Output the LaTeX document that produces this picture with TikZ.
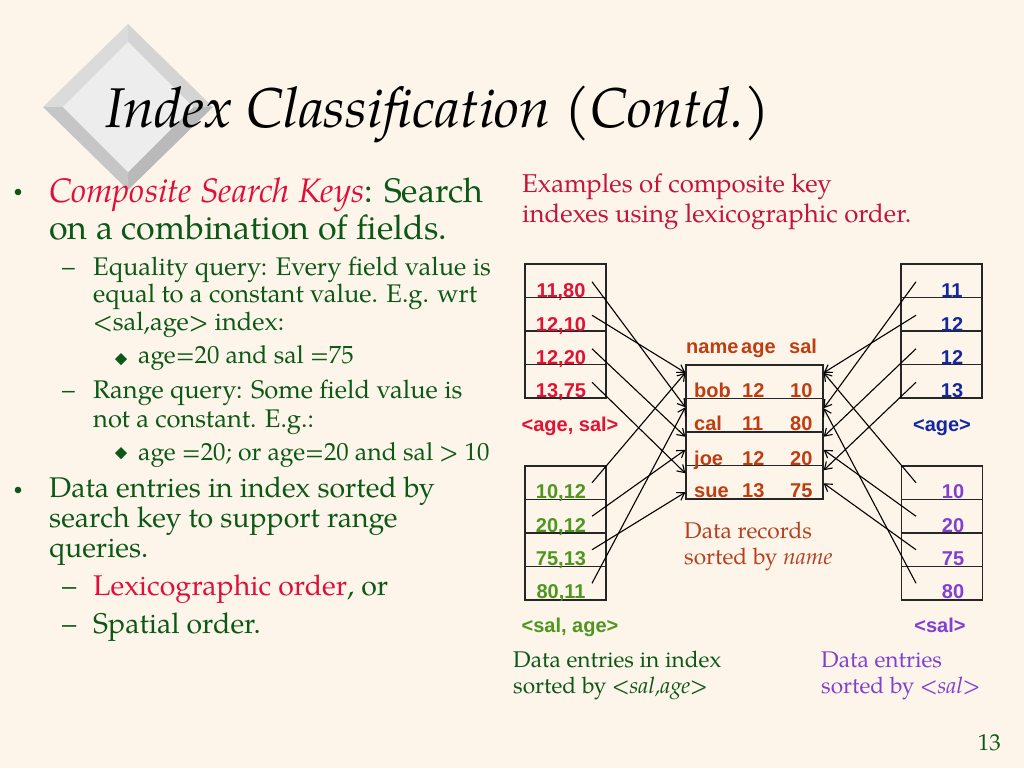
\documentclass[tikz,border=0pt]{standalone}
\usepackage{fontspec}
\setmainfont{texgyrepagella}[Extension=.otf,UprightFont=*-regular,ItalicFont=*-italic,BoldFont=*-bold,BoldItalicFont=*-bolditalic]
\setsansfont{Liberation Sans}
\usetikzlibrary{arrows.meta}
\definecolor{bg}{RGB}{253,245,234}
\definecolor{dgreen}{RGB}{12,88,22}
\definecolor{crim}{RGB}{222,16,58}
\definecolor{exred}{RGB}{196,20,58}
\definecolor{recbrown}{RGB}{190,62,18}
\definecolor{capbrown}{RGB}{180,64,30}
\definecolor{lgreen}{RGB}{78,150,30}
\definecolor{iblue}{RGB}{18,40,160}
\definecolor{ipurp}{RGB}{128,64,210}
\definecolor{rred}{RGB}{225,18,50}
\begin{document}
\begin{tikzpicture}[x=1pt,y=-1pt,
  cell/.style={draw=black!85,line width=1.3pt,minimum width=81pt,minimum height=33.5pt,inner sep=0pt},
  rec/.style={draw=black!85,line width=1.3pt,minimum width=137pt,minimum height=33.5pt,inner sep=0pt},
  lab/.style={font=\fontsize{20}{22}\selectfont\sffamily\bfseries,anchor=base,inner sep=0pt},
  labw/.style={font=\fontsize{20}{22}\selectfont\sffamily\bfseries,anchor=base west,inner sep=0pt},
  txt/.style={anchor=base west,inner sep=0pt},
  lone/.style={txt,font=\fontsize{34}{38}\selectfont,text=dgreen},
  lonesm/.style={txt,font=\fontsize{28.5}{32}\selectfont,text=dgreen},
  ltwo/.style={txt,font=\fontsize{25.5}{29}\selectfont,text=dgreen},
  lthree/.style={txt,font=\fontsize{24.8}{28}\selectfont,text=dgreen},
  captxt/.style={txt,font=\fontsize{22.7}{26}\selectfont},
  capbig/.style={txt,font=\fontsize{25.8}{29}\selectfont},
  conn/.style={line width=1.1pt,black,-{Straight Barb[length=7pt,width=9pt]}}]
\fill[bg] (0,0) rectangle (1024,768);
\useasboundingbox (0,0) rectangle (1024,768);
% logo diamond
\fill[gray!28] (43,107) -- (128,24) -- (128,42) -- (63,107) -- cycle;
\fill[gray!34] (128,24) -- (213,107) -- (193,107) -- (128,42) -- cycle;
\fill[gray!45] (43,107) -- (128,190) -- (128,172) -- (63,107) -- cycle;
\fill[gray!55] (213,107) -- (128,190) -- (128,172) -- (193,107) -- cycle;
\fill[gray!14] (63,107) -- (128,42) -- (193,107) -- (128,172) -- cycle;
% title
\node[txt,font=\fontsize{56}{60}\selectfont\itshape] (title) at (105,127) {Index Classification (Contd.)};
% left text
\fill[dgreen] (18,192) circle (3.3);
\node[lone] (t1) at (49,202) {{\color{crim}\itshape Composite Search Keys}: Search};
\node[lone] (t2) at (49,239) {on a combination of fields.};
\node[ltwo] (d1) at (62,275) {–};
\node[ltwo] (t3) at (93,275) {Equality query: Every field value is};
\node[ltwo] (t4) at (93,302) {equal to a constant value. E.g. wrt};
\node[ltwo] (t5) at (93,330) {<sal,age> index:};
\fill[dgreen] (121,353) -- (127,359) -- (121,365) -- (115,359) -- cycle;
\node[lthree] (t6) at (138,363) {age=20 and sal =75};
\node[ltwo] (d2) at (62,398) {–};
\node[ltwo] (t7) at (93,398) {Range query: Some field value is};
\node[ltwo] (t8) at (93,427) {not a constant. E.g.:};
\fill[dgreen] (121,447) -- (127,453) -- (121,459) -- (115,453) -- cycle;
\node[lthree] (t9) at (138,460) {age =20; or age=20 and sal > 10};
\fill[dgreen] (18,490) circle (3.3);
\node[lonesm] (t10) at (49,497) {Data entries in index sorted by};
\node[lonesm] (t11) at (49,527) {search key to support range};
\node[lonesm] (t12) at (49,557) {queries.};
\node[lonesm] (d3) at (62,595) {–};
\node[lonesm] (t13) at (93,595) {{\color{crim}Lexicographic order}, or};
\node[lonesm] (d4) at (62,633) {–};
\node[lonesm] (t14) at (93,633) {Spatial order.};
% captions
\node[capbig,text=exred] (c1) at (522,192) {Examples of composite key};
\node[capbig,text=exred] (c2) at (522,222) {indexes using lexicographic order.};
\node[captxt,text=capbrown] (c3) at (684,538) {Data records};
\node[captxt,text=capbrown] (c4) at (684,564) {sorted by \textit{name}};
\node[captxt,text=dgreen] (c5) at (513,667) {Data entries in index};
\node[captxt,text=dgreen] (c6) at (513,693) {sorted by <\textit{sal,age}>};
\node[captxt,text=ipurp] (c7) at (821,667) {Data entries};
\node[captxt,text=ipurp] (c8) at (821,693) {sorted by <\textit{sal}>};
\node[txt,anchor=base east,font=\fontsize{23}{26}\selectfont,text=dgreen] (pg) at (1001,750) {13};
% left top index <age,sal>
\node[cell] (la1) at (565.5,280.75) {};
\node[cell] (la2) at (565.5,314.25) {};
\node[cell] (la3) at (565.5,347.75) {};
\node[cell] (la4) at (565.5,381.25) {};
\node[lab,text=rred] (la1t) at (561,297) {11,80};
\node[lab,text=rred] (la2t) at (561,331) {12,10};
\node[lab,text=rred] (la3t) at (561,364) {12,20};
\node[lab,text=rred] (la4t) at (561,397) {13,75};
\node[lab,text=rred] (lak) at (570,431) {<age, sal>};
% left bottom index <sal,age>
\node[cell] (lb1) at (565.5,482.75) {};
\node[cell] (lb2) at (565.5,516.25) {};
\node[cell] (lb3) at (565.5,549.75) {};
\node[cell] (lb4) at (565.5,583.25) {};
\node[lab,text=lgreen] (lb1t) at (561,498) {10,12};
\node[lab,text=lgreen] (lb2t) at (561,532) {20,12};
\node[lab,text=lgreen] (lb3t) at (561,565) {75,13};
\node[lab,text=lgreen] (lb4t) at (561,598) {80,11};
\node[lab,text=lgreen] (lbk) at (570,632) {<sal, age>};
% records
\node[labw,text=recbrown] (hn) at (686,353) {name};
\node[labw,text=recbrown] (ha) at (741,353) {age};
\node[labw,text=recbrown] (hs) at (789,353) {sal};
\node[rec] (rbob) at (754.5,381.75) {};
\node[rec] (rcal) at (754.5,415.25) {};
\node[rec] (rjoe) at (754.5,448.75) {};
\node[rec] (rsue) at (754.5,482.25) {};
\node[labw,text=recbrown] (r1a) at (694,397) {bob};
\node[labw,text=recbrown] (r1b) at (742,397) {12};
\node[labw,text=recbrown] (r1c) at (790,397) {10};
\node[labw,text=recbrown] (r2a) at (694,430) {cal};
\node[labw,text=recbrown] (r2b) at (742,430) {11};
\node[labw,text=recbrown] (r2c) at (790,430) {80};
\node[labw,text=recbrown] (r3a) at (694,465) {joe};
\node[labw,text=recbrown] (r3b) at (742,465) {12};
\node[labw,text=recbrown] (r3c) at (790,465) {20};
\node[labw,text=recbrown] (r4a) at (694,497) {sue};
\node[labw,text=recbrown] (r4b) at (742,497) {13};
\node[labw,text=recbrown] (r4c) at (790,497) {75};
% right top index <age>
\node[cell] (ra1) at (941.5,280.75) {};
\node[cell] (ra2) at (941.5,314.25) {};
\node[cell] (ra3) at (941.5,347.75) {};
\node[cell] (ra4) at (941.5,381.25) {};
\node[lab,text=iblue] (ra1t) at (952,297) {11};
\node[lab,text=iblue] (ra2t) at (952,331) {12};
\node[lab,text=iblue] (ra3t) at (952,364) {12};
\node[lab,text=iblue] (ra4t) at (952,397) {13};
\node[lab,text=iblue] (rak) at (942,431) {<age>};
% right bottom index <sal>
\node[cell] (rb1) at (942,482.75) {};
\node[cell] (rb2) at (942,516.25) {};
\node[cell] (rb3) at (942,549.75) {};
\node[cell] (rb4) at (942,583.25) {};
\node[lab,text=ipurp] (rb1t) at (953,498) {10};
\node[lab,text=ipurp] (rb2t) at (953,532) {20};
\node[lab,text=ipurp] (rb3t) at (953,565) {75};
\node[lab,text=ipurp] (rb4t) at (953,598) {80};
\node[lab,text=ipurp] (rbk) at (940,632) {<sal>};
% connectors left top
\draw[conn] ([xshift=26.5pt,yshift=-1pt]la1.center) -- ([yshift=8pt]rcal.west);
\draw[conn] ([xshift=26.5pt,yshift=-1pt]la2.center) -- ([yshift=9pt]rbob.west);
\draw[conn] ([xshift=26.5pt,yshift=-1pt]la3.center) -- ([yshift=12pt]rjoe.west);
\draw[conn] ([xshift=26.5pt,yshift=-1pt]la4.center) -- ([yshift=9pt]rsue.west);
% connectors left bottom
\draw[conn] ([xshift=26.5pt]lb1.center) -- ([yshift=9pt]rbob.west);
\draw[conn] ([xshift=26.5pt]lb2.center) -- ([yshift=-1pt]rjoe.west);
\draw[conn] ([xshift=26.5pt]lb3.center) -- ([yshift=-10pt]rsue.west);
\draw[conn] ([xshift=26.5pt]lb4.center) -- ([yshift=8pt]rcal.west);
% connectors right top
\draw[conn] ([xshift=-25.5pt,yshift=-1pt]ra1.center) -- ([yshift=7pt]rcal.east);
\draw[conn] ([xshift=-25.5pt,yshift=-1pt]ra2.center) -- ([yshift=9pt]rbob.east);
\draw[conn] ([xshift=-25.5pt,yshift=-1pt]ra3.center) -- ([yshift=12pt]rjoe.east);
\draw[conn] ([xshift=-25.5pt,yshift=-1pt]ra4.center) -- ([yshift=12pt]rsue.east);
% connectors right bottom
\draw[conn] ([xshift=-26pt]rb1.center) -- ([yshift=9pt]rbob.east);
\draw[conn] ([xshift=-26pt]rb2.center) -- ([yshift=-1pt]rjoe.east);
\draw[conn] ([xshift=-26pt]rb3.center) -- ([yshift=-1pt]rsue.east);
\draw[conn] ([xshift=-26pt]rb4.center) -- ([yshift=7pt]rcal.east);
\end{tikzpicture}
\end{document}
